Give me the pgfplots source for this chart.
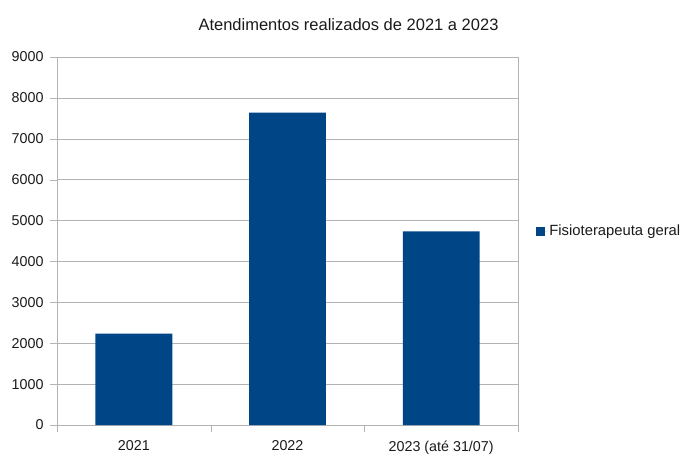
\documentclass[border=0pt]{standalone}
\usepackage{fontspec}
\setmainfont{Liberation Sans}
\usepackage{pgfplots}
\pgfplotsset{compat=1.18}
\definecolor{barblue}{HTML}{004586}
\definecolor{gridgray}{HTML}{B3B3B3}
\definecolor{txt}{HTML}{1A1A1A}
\begin{document}
\begin{tikzpicture}[x=1pt,y=1pt]
\useasboundingbox (0,0) rectangle (696,461);
\begin{axis}[
  at={(57pt,36pt)}, anchor=south west,
  scale only axis, width=461pt, height=368pt,
  ymin=0, ymax=9000, ytick={0,1000,...,9000},
  xmin=-0.5, xmax=2.5,
  xtick={-0.5,0.5,1.5,2.5},
  x tick label as interval,
  xticklabels={2021,2022,2023 (até 31/07)},
  ybar, bar width=0.5,
  axis line style={gridgray},
  ymajorgrids, major grid style={gridgray},
  major tick style={gridgray},
  tick align=outside,
  major tick length=7pt,
  xtick pos=bottom, ytick pos=left,
  /pgf/number format/assume math mode=true,
  /pgf/number format/1000 sep={},
  ticklabel style={font=\fontsize{14.3}{16}\selectfont, text=txt},
  yticklabel style={xshift=-3pt},
  xticklabel style={yshift=-5pt},
  legend style={at={(1.033,0.527)}, anchor=west, draw=none, fill=none,
    font=\fontsize{14.8}{17}\selectfont, text=txt},
  legend image code/.code={\fill[barblue] (0pt,-4.5pt) rectangle (9pt,4.5pt); \path (0pt,0pt) -- (11pt,0pt);},
]
\addplot[fill=barblue, draw=none] coordinates {(0,2235) (1,7640) (2,4737)};
\addlegendentry{Fisioterapeuta geral}
\end{axis}
\node[text=txt, font=\fontsize{16.5}{19}\selectfont] at (348.5,436) {Atendimentos realizados de 2021 a 2023};
\end{tikzpicture}
\end{document}
